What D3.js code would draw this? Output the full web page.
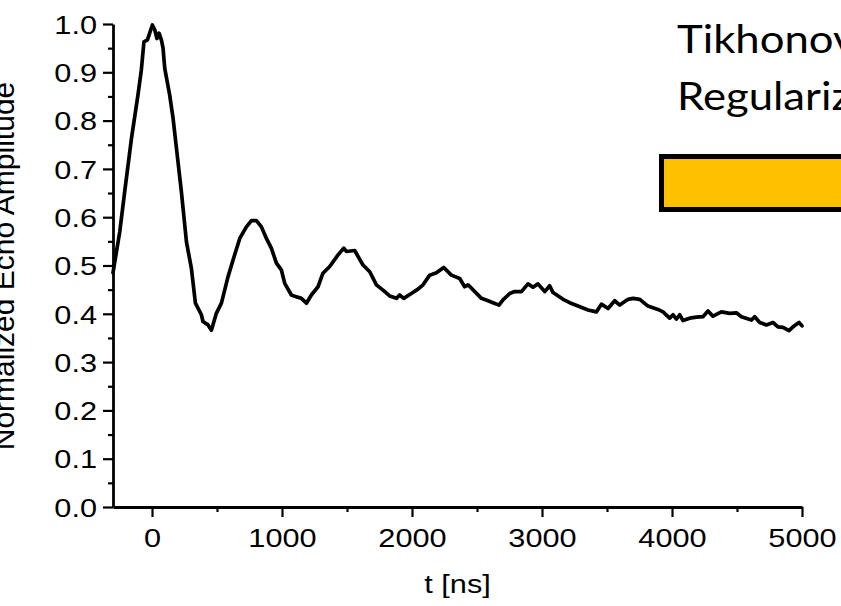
<!DOCTYPE html>
<html>
<head>
<meta charset="utf-8">
<script src="https://cdn.jsdelivr.net/npm/d3@7"></script>
<style>
  html, body { margin: 0; padding: 0; background: #fff; }
  svg { display: block; }
</style>
</head>
<body>
<svg id="chart" width="841" height="606"></svg>
<script>
// ---- data ----
const timeNs = [-300,-248,-210,-158,-108,-82,-62,-35,-18,3,21,38,54,72,85,98,136,162,188,226,265,303,334,380,392,431,457,495,534,585,623,675,726,765,803,842,880,918,957,995,1021,1072,1111,1149,1188,1226,1277,1315,1367,1431,1475,1495,1559,1623,1675,1726,1777,1828,1880,1905,1936,1995,2046,2085,2136,2188,2244,2303,2367,2405,2431,2534,2585,2623,2669,2700,2752,2790,2842,2892,2931,2969,3021,3059,3085,3162,3213,3277,3354,3418,3457,3508,3559,3598,3662,3700,3752,3815,3892,3931,3982,4008,4034,4059,4085,4136,4188,4238,4277,4315,4380,4444,4495,4534,4611,4636,4675,4726,4777,4815,4854,4900,4931,4977,5000];
const amplitude = [0.485,0.570,0.653,0.763,0.853,0.905,0.963,0.967,0.981,0.998,0.988,0.970,0.981,0.967,0.950,0.908,0.853,0.805,0.743,0.653,0.549,0.494,0.422,0.398,0.384,0.377,0.366,0.401,0.422,0.477,0.511,0.556,0.580,0.593,0.593,0.580,0.556,0.536,0.505,0.491,0.463,0.439,0.435,0.432,0.422,0.439,0.456,0.484,0.498,0.522,0.536,0.529,0.531,0.501,0.487,0.460,0.449,0.437,0.432,0.439,0.432,0.442,0.451,0.460,0.480,0.485,0.496,0.480,0.473,0.456,0.460,0.432,0.427,0.423,0.418,0.429,0.442,0.446,0.446,0.462,0.455,0.462,0.446,0.458,0.444,0.430,0.423,0.416,0.408,0.404,0.420,0.411,0.427,0.418,0.430,0.432,0.430,0.416,0.409,0.404,0.391,0.398,0.389,0.398,0.386,0.391,0.393,0.394,0.406,0.395,0.404,0.401,0.402,0.394,0.387,0.394,0.382,0.377,0.382,0.373,0.372,0.365,0.373,0.382,0.375];

const xMajorTicks = [0,1000,2000,3000,4000,5000];
const xMinorTicks = [500,1500,2500,3500,4500];
const yMajorTicks = [0,0.1,0.2,0.3,0.4,0.5,0.6,0.7,0.8,0.9,1.0];
const yMinorTicks = [0.05,0.15,0.25,0.35,0.45,0.55,0.65,0.75,0.85,0.95];
const xDomain = [-300, 5000];
const yDomain = [0, 1];

const xTitle = "t [ns]";
const yTitle = "Normalized Echo Amplitude";
const noteLines = ["Tikhonov", "Regularization"];

// ---- layout ----
const L = 113, R = 802, T = 24, B = 507;
const FS = 25.6, SX = 1.2;
const font = "'Liberation Sans', Arial, sans-serif";

const svg = d3.select("#chart");
const x = d3.scaleLinear().domain(xDomain).range([L, R]);
const y = d3.scaleLinear().domain(yDomain).range([B, T]);

// annotation text
const note = svg.append("g");
note.selectAll("text").data(noteLines).join("text")
  .attr("transform", (d, i) => `translate(677,${53 + i * 57}) scale(1.12,1)`)
  .attr("font-family", "Lato, 'Open Sans', sans-serif")
  .attr("font-size", 39)
  .attr("fill", "#000")
  .text(d => d);

// orange box
svg.append("rect")
  .attr("x", 661.5).attr("y", 156.5)
  .attr("width", 300).attr("height", 53)
  .attr("fill", "#FFC000")
  .attr("stroke", "#000")
  .attr("stroke-width", 5);

// minor ticks
svg.append("g").attr("transform", `translate(0,${B})`)
  .call(d3.axisBottom(x).tickValues(xMinorTicks).tickSize(5).tickFormat(""))
  .call(g => g.select(".domain").remove())
  .call(g => g.selectAll("line").attr("stroke", "#000").attr("stroke-width", 2.2));
svg.append("g").attr("transform", `translate(${L},0)`)
  .call(d3.axisLeft(y).tickValues(yMinorTicks).tickSize(5).tickFormat(""))
  .call(g => g.select(".domain").remove())
  .call(g => g.selectAll("line").attr("stroke", "#000").attr("stroke-width", 2.2));

// major x axis
const gx = svg.append("g").attr("transform", `translate(0,${B})`)
  .call(d3.axisBottom(x).tickValues(xMajorTicks).tickSize(10).tickSizeOuter(0)
        .tickPadding(11.5).tickFormat(d3.format("d")));
gx.select(".domain").attr("stroke", "#000").attr("stroke-width", 2.8);
gx.selectAll(".tick line").attr("stroke", "#000").attr("stroke-width", 2.2);
gx.selectAll(".tick text")
  .attr("font-family", font).attr("font-size", FS).attr("fill", "#000")
  .attr("transform", `scale(${SX},1)`);

// major y axis
const gy = svg.append("g").attr("transform", `translate(${L},0)`)
  .call(d3.axisLeft(y).tickValues(yMajorTicks).tickSize(10).tickSizeOuter(0)
        .tickFormat(d3.format(".1f")));
gy.select(".domain").attr("stroke", "#000").attr("stroke-width", 2.8);
gy.selectAll(".tick line").attr("stroke", "#000").attr("stroke-width", 2.2);
gy.selectAll(".tick text")
  .attr("font-family", font).attr("font-size", FS).attr("fill", "#000")
  .attr("x", -16 / SX).attr("dy", "0.36em")
  .attr("transform", `scale(${SX},1)`);

// axis titles
svg.append("text")
  .attr("transform", `translate(${(L + R) / 2},593) scale(${SX},1)`)
  .attr("text-anchor", "middle")
  .attr("font-family", font).attr("font-size", FS).attr("fill", "#000")
  .text(xTitle);

svg.append("text")
  .attr("transform", `translate(14,266) rotate(-90)`)
  .attr("text-anchor", "middle")
  .attr("font-family", font).attr("font-size", 30).attr("fill", "#000")
  .text(yTitle);

// data line
const data = timeNs.map((t, i) => ({t, v: amplitude[i]}));
svg.append("path")
  .datum(data)
  .attr("fill", "none")
  .attr("stroke", "#000")
  .attr("stroke-width", 3.7)
  .attr("stroke-linejoin", "round")
  .attr("stroke-linecap", "round")
  .attr("d", d3.line().x(d => x(d.t)).y(d => y(d.v)));
</script>
</body>
</html>
